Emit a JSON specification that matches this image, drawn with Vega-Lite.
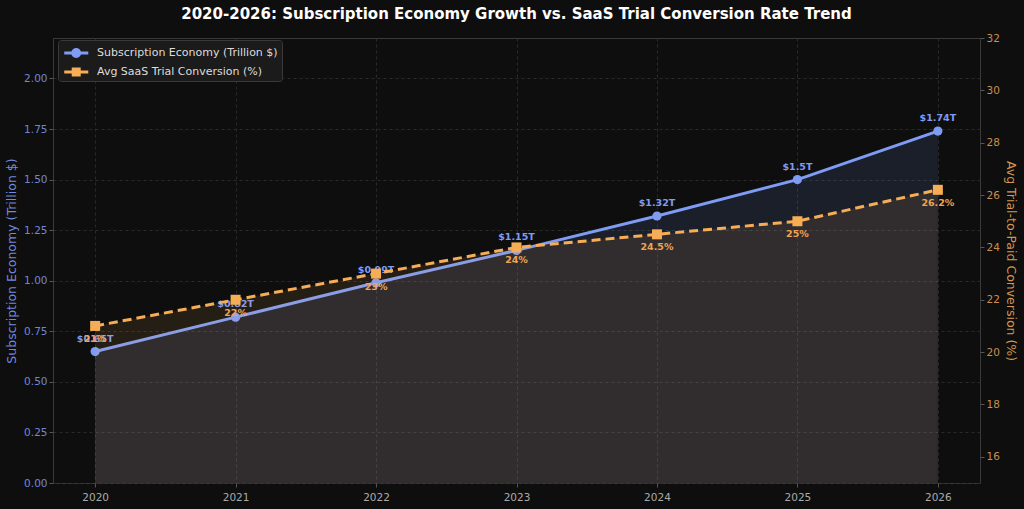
{
  "$schema": "https://vega.github.io/schema/vega-lite/v6.json",
  "width": 927,
  "height": 445,
  "autosize": {"type": "none"},
  "padding": {"left": 53, "top": 38, "right": 44, "bottom": 26},
  "background": "#0e0e0e",
  "title": {
    "text": "2020-2026: Subscription Economy Growth vs. SaaS Trial Conversion Rate Trend",
    "anchor": "middle",
    "fontSize": 15,
    "fontWeight": "bold",
    "color": "#ffffff",
    "font": "DejaVu Sans",
    "offset": 11
  },
  "data": {
    "values": [
      {"year": 2020, "subs": 0.65, "conv": 21.0, "subsLabel": "$0.65T", "convLabel": "21%"},
      {"year": 2021, "subs": 0.82, "conv": 22.0, "subsLabel": "$0.82T", "convLabel": "22%"},
      {"year": 2022, "subs": 0.99, "conv": 23.0, "subsLabel": "$0.99T", "convLabel": "23%"},
      {"year": 2023, "subs": 1.15, "conv": 24.0, "subsLabel": "$1.15T", "convLabel": "24%"},
      {"year": 2024, "subs": 1.32, "conv": 24.5, "subsLabel": "$1.32T", "convLabel": "24.5%"},
      {"year": 2025, "subs": 1.5, "conv": 25.0, "subsLabel": "$1.5T", "convLabel": "25%"},
      {"year": 2026, "subs": 1.74, "conv": 26.2, "subsLabel": "$1.74T", "convLabel": "26.2%"}
    ]
  },
  "layer": [
    {
      "encoding": {
        "x": {
          "field": "year",
          "type": "quantitative",
          "scale": {"domain": [2019.7, 2026.3], "nice": false, "zero": false},
          "axis": {
            "title": null,
            "values": [2020, 2021, 2022, 2023, 2024, 2025, 2026],
            "format": "d",
            "labelColor": "#aaaaaa",
            "labelFontSize": 10.5,
            "grid": true,
            "gridDash": [3, 3],
            "gridColor": "#2a2a2a",
            "tickColor": "#555555",
            "tickSize": 4,
            "domain": false,
            "labelPadding": 5
          }
        },
        "y": {
          "field": "subs",
          "type": "quantitative",
          "scale": {"domain": [0, 2.2], "nice": false},
          "axis": {
            "title": "Subscription Economy (Trillion $)",
            "titleColor": "#7189dd",
            "titleFontSize": 12.5,
            "titleFontWeight": "normal",
            "titlePadding": 5,
            "values": [0, 0.25, 0.5, 0.75, 1.0, 1.25, 1.5, 1.75, 2.0],
            "format": ".2f",
            "labelColor": "#6f87d8",
            "labelFontSize": 10.5,
            "grid": true,
            "gridDash": [3, 3],
            "gridColor": "#2a2a2a",
            "tickColor": "#555555",
            "tickSize": 4,
            "domain": false
          }
        }
      },
      "layer": [
        {
          "mark": {"type": "area", "color": "#7f9cf5", "opacity": 0.12}
        },
        {
          "mark": {"type": "line", "strokeWidth": 3},
          "encoding": {
            "color": {
              "datum": "Subscription Economy (Trillion $)",
              "scale": {
                "domain": ["Subscription Economy (Trillion $)", "Avg SaaS Trial Conversion (%)"],
                "range": ["#7f9cf5", "#f6ad55"]
              },
              "legend": {
                "title": null,
                "orient": "none",
                "legendX": 5,
                "legendY": 2,
                "padding": 4,
                "fillColor": "#1b1b1b",
                "strokeColor": "#3a3a3a",
                "cornerRadius": 3,
                "labelColor": "#dddddd",
                "labelFontSize": 11,
                "labelFont": "DejaVu Sans",
                "labelLimit": 0,
                "symbolSize": 324,
                "rowPadding": 5,
                "labelOffset": 17,
                "encode": {
                  "symbols": {
                    "update": {
                      "shape": {"signal": "datum.value === 'Subscription Economy (Trillion $)' ? 'M-0.75,-0.17H1.92V0.17H-0.75Z M1.13,0A0.55,0.55,0,1,1,0.03,0A0.55,0.55,0,1,1,1.13,0Z' : 'M-0.75,-0.17H1.92V0.17H-0.75Z M0.08,-0.5H1.08V0.5H0.08Z'"},
                      "fill": {"signal": "datum.value === 'Subscription Economy (Trillion $)' ? '#7f9cf5' : '#f6ad55'"},
                      "strokeWidth": {"value": 0},
                      "opacity": {"value": 1}
                    }
                  }
                }
              }
            }
          }
        },
        {
          "mark": {"type": "point", "shape": "circle", "filled": true, "size": 85, "color": "#7f9cf5", "opacity": 1}
        },
        {
          "mark": {"type": "text", "dy": -13, "fontSize": 9.5, "fontWeight": "bold", "color": "#7f9cf5", "font": "DejaVu Sans"},
          "encoding": {"text": {"field": "subsLabel"}}
        }
      ]
    },
    {
      "encoding": {
        "x": {"field": "year", "type": "quantitative"},
        "y": {
          "field": "conv",
          "type": "quantitative",
          "scale": {"domain": [15, 32], "nice": false, "zero": false},
          "axis": {
            "orient": "right",
            "title": "Avg Trial-to-Paid Conversion (%)",
            "titleColor": "#d49650",
            "titleFontSize": 12.5,
            "titleFontWeight": "normal",
            "titlePadding": 4,
            "values": [16, 18, 20, 22, 24, 26, 28, 30, 32],
            "labelColor": "#c98f4e",
            "labelFontSize": 10.5,
            "grid": false,
            "tickColor": "#555555",
            "tickSize": 4,
            "domain": false
          }
        }
      },
      "layer": [
        {
          "mark": {"type": "area", "color": "#f6ad55", "opacity": 0.1},
          "encoding": {"y2": {"datum": 15}}
        },
        {
          "mark": {"type": "line", "strokeWidth": 3, "strokeDash": [9, 5]},
          "encoding": {"color": {"datum": "Avg SaaS Trial Conversion (%)"}}
        },
        {
          "mark": {"type": "point", "shape": "square", "filled": true, "size": 100, "color": "#f6ad55", "opacity": 1}
        },
        {
          "mark": {"type": "text", "dy": 13, "fontSize": 9.5, "fontWeight": "bold", "color": "#f0a450", "font": "DejaVu Sans"},
          "encoding": {"text": {"field": "convLabel"}}
        }
      ]
    }
  ],
  "resolve": {"scale": {"y": "independent"}},
  "config": {
    "font": "DejaVu Sans",
    "view": {"stroke": "#3a3a3a", "strokeWidth": 1},
    "axis": {"labelFont": "DejaVu Sans", "titleFont": "DejaVu Sans"}
  }
}
